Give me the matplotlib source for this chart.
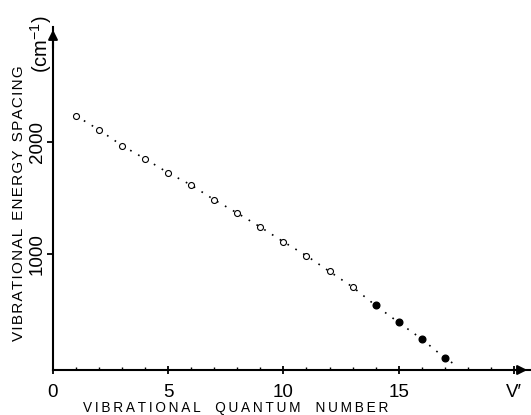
import numpy as np
import matplotlib.pyplot as plt

plt.rcParams['font.family'] = ['Liberation Sans', 'DejaVu Sans']
plt.rcParams['mathtext.default'] = 'regular'

# Données
v_open = [1, 2, 3, 4, 5, 6, 7, 8, 9, 10, 11, 12, 13]
dE_open = [2230, 2105, 1965, 1847, 1723, 1614, 1483, 1365, 1241, 1110, 986, 846, 708]
v_full = [14, 15, 16, 17]
dE_full = [544, 393, 246, 77]
# extrapolation de la courbe pointillée jusqu'à dE = 0
v_lim = 17.58
dE_lim = 0

xticks = [0, 5, 10, 15, 20]
xticklabels = ['0', '5', '10', '15', 'V\u2032']
yticks = [1000, 2000]


def espace(txt, sep='\u2009', gap='   '):
    # lettres espacées comme sur l'original
    return gap.join(sep.join(mot) for mot in txt.split(' '))


fig = plt.figure(figsize=(5.31, 4.15), dpi=100)
ax = fig.add_axes([53/531, 45/415, (530-53)/531, (370-27)/415])

v_all = v_open + v_full + [v_lim]
dE_all = dE_open + dE_full + [dE_lim]
ax.plot(v_all, dE_all, color='k', lw=1.2, ls=(0, (1, 4.5)))
ax.plot(v_open, dE_open, 'o', mfc='white', mec='k', mew=0.8, ms=4.3)
ax.plot(v_full, dE_full, 'o', mfc='k', mec='k', ms=4.8)

ax.set_xlim(0, 20.7)
ax.set_ylim(-30, 3020)

for s in ['top', 'right']:
    ax.spines[s].set_visible(False)
for s in ['left', 'bottom']:
    ax.spines[s].set_linewidth(1.5)

# flèches au bout des axes
ax.annotate('', xy=(0, 1.0), xytext=(0, 0.93), xycoords='axes fraction',
            arrowprops=dict(arrowstyle='-|>', color='k', lw=1.5, mutation_scale=14))
ax.annotate('', xy=(1.0, 0), xytext=(0.96, 0), xycoords='axes fraction',
            arrowprops=dict(arrowstyle='-|>', color='k', lw=1.5, mutation_scale=14))

ax.set_xticks(xticks)
ax.set_xticklabels(xticklabels, fontsize=13.5)
ax.set_xticks(range(0, 21), minor=True)
ax.tick_params(axis='x', which='major', direction='inout', length=6, width=1.3, pad=7)
ax.tick_params(axis='x', which='minor', direction='in', length=2.5, width=1)

ax.set_yticks(yticks)
ax.set_yticklabels([str(t) for t in yticks], fontsize=13.5, rotation=90, va='center')
ax.tick_params(axis='y', which='major', direction='out', length=4, width=1.3, pad=1)

fig.text(236/531, 1 - 408/415, espace('VIBRATIONAL QUANTUM NUMBER', gap='    '),
         fontsize=9.8, ha='center', va='center')
fig.text(19/531, 1 - 203/415, espace('VIBRATIONAL ENERGY SPACING', sep='\u200a', gap='  '),
         fontsize=11, rotation=90, ha='center', va='center')
fig.text(41/531, 1 - 44/415, '(cm$^{-1}$)', fontsize=14.5, rotation=90,
         ha='center', va='center')

fig.savefig('out.png', dpi=100)
